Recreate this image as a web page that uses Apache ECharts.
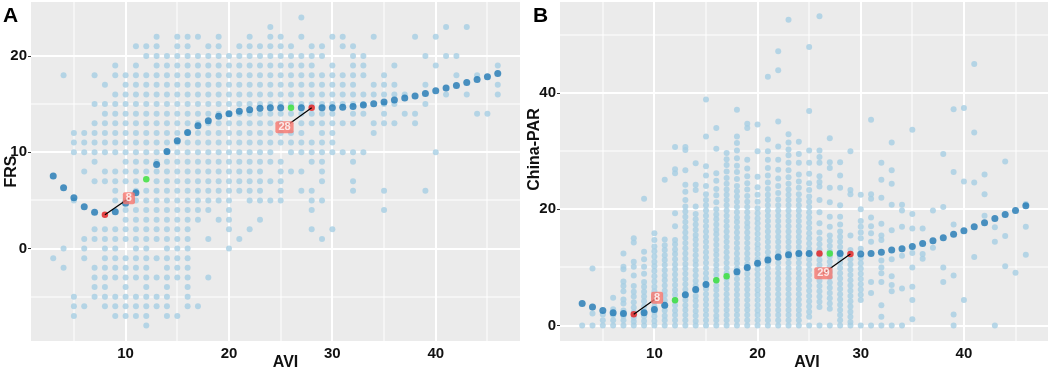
<!DOCTYPE html>
<html>
<head>
<meta charset="utf-8">
<script src="https://cdn.jsdelivr.net/npm/echarts/dist/echarts.min.js"></script>
<style>
  html, body { margin: 0; padding: 0; background: #fff; }
  #chart { width: 1053px; height: 369px; }
</style>
</head>
<body>
<div id="chart"></div>
<script>
// Panel A: FRS values observed at each AVI value (light points)
const frsByAvi = [
  [3, [-1]],
  [4, [18, 0, -2]],
  [5, [12, 11, 10, 5, -5, -6, -7]],
  [6, [12, 11, 10, 8, 1, 0, -1, -6]],
  [7, [18, 15, 13, 12, 11, 10, 9, 7, 2, 1, -2, -3, -4, -5]],
  [8, [17, 15, 14, 13, 12, 11, 10, 8, 7, 2, 1, 0, -1, -2, -3, -4, -5, -6]],
  [9, [19, 18, 16, 15, 14, 13, 12, 11, 10, 8, 7, 6, 5, 2, 1, 0, -1, -2, -3, -5, -6, -7]],
  [10, [18, 17, 16, 15, 14, 13, 12, 11, 10, 9, 8, 7, 5, 4, 3, 2, 1, -1, -2, -3, -4, -5, -6, -7]],
  [11, [21, 19, 18, 17, 16, 15, 14, 13, 12, 11, 10, 9, 8, 7, 6, 5, 4, 3, 2, 1, 0, -1, -2, -3, -5, -6, -7]],
  [12, [21, 20, 18, 17, 16, 15, 14, 13, 12, 11, 10, 9, 8, 6, 5, 4, 3, 2, 1, 0, -1, -2, -3, -4, -5, -6, -7, -8]],
  [13, [22, 21, 20, 19, 18, 17, 16, 15, 14, 13, 12, 11, 10, 9, 8, 7, 6, 5, 4, 3, 2, 1, -1, -3, -5, -6]],
  [14, [20, 19, 18, 17, 16, 15, 14, 13, 12, 11, 10, 9, 8, 7, 6, 5, 4, 3, 2, 1, 0, -1, -2, -3, -4, -5, -6, -7]],
  [15, [22, 21, 20, 19, 18, 17, 16, 15, 14, 13, 12, 11, 10, 9, 8, 7, 6, 5, 4, 3, 2, 1, 0, -1, -2, -3, -7]],
  [16, [22, 21, 20, 19, 18, 17, 16, 15, 14, 13, 12, 11, 10, 9, 8, 7, 6, 5, 4, 3, 2, 1, 0, -1, -2, -3, -4, -5, -6]],
  [17, [22, 20, 19, 18, 17, 16, 15, 14, 13, 12, 11, 10, 9, 8, 7, 6, 5, 4, 3, -6]],
  [18, [21, 20, 19, 18, 17, 16, 15, 14, 13, 12, 11, 10, 9, 8, 7, 6, 5, 4, 1, -3]],
  [19, [22, 21, 20, 19, 18, 17, 16, 15, 14, 13, 12, 11, 10, 9, 8, 7, 6, 5, 3]],
  [20, [20, 19, 18, 17, 16, 15, 14, 13, 12, 11, 10, 9, 8, 7, 6, 5, 4, 3, 2, 0]],
  [21, [21, 20, 19, 18, 17, 16, 15, 14, 13, 12, 11, 10, 9, 8, 7, 6, 1]],
  [22, [22, 21, 20, 19, 18, 17, 16, 15, 14, 13, 12, 11, 10, 9, 8, 7, 6, 5, 2]],
  [23, [21, 20, 19, 18, 17, 16, 15, 14, 13, 12, 11, 10, 9, 8, 7, 6, 5, 3]],
  [24, [23, 22, 21, 20, 19, 18, 17, 16, 15, 14, 13, 12, 11, 10, 9, 7, 5]],
  [25, [22, 21, 20, 19, 18, 17, 16, 15, 14, 13, 12, 11, 9, 8, 7, 6, 5]],
  [26, [21, 20, 19, 18, 17, 16, 15, 14, 12, 11, 10, 8]],
  [27, [24, 22, 20, 19, 18, 17, 16, 15, 14, 13, 12, 11, 10, 8, 6]],
  [28, [21, 20, 19, 18, 17, 16, 15, 14, 13, 11, 10, 9, 6, 5, 4, 2]],
  [29, [21, 20, 18, 17, 16, 15, 14, 13, 12, 11, 10, 9, 8, 7, 5, 1]],
  [30, [22, 19, 18, 17, 16, 15, 14, 13, 12, 11, 10, 2]],
  [31, [22, 21, 18, 17, 16, 15, 13, 10]],
  [32, [21, 20, 19, 18, 17, 16, 15, 14, 13, 10, 9, 7, 6]],
  [33, [20, 19, 18, 16, 15, 14, 10]],
  [34, [22, 17, 16, 13, 12]],
  [35, [18, 17, 16, 15, 14, 13, 6, 4]],
  [36, [19, 17, 16, 15, 13]],
  [37, [16, 14]],
  [38, [22, 14, 13]],
  [39, [20, 17, 15, 6]],
  [40, [22, 19, 10]],
  [41, [23, 20, 16]],
  [42, [20, 18]],
  [43, [23, 16]],
  [44, [18, 14]],
  [45, [14]],
  [46, [19, 17, 16]]
];

// Panel B: China-PAR values observed at each AVI value (light points)
const parByAvi = [
  [3, [0]],
  [4, [0, 2.1, 9.8]],
  [5, [0, 0.9, 1.9]],
  [6, [0, 0.9, 1.8, 2.8, 4.8]],
  [7, [0, 0.9, 1.7, 2.6, 3.8, 4.5, 5.9, 6.8, 7.6, 9.7, 10.1, 12.4]],
  [8, [0, 0.7, 1.4, 2.3, 3.1, 4.0, 5.0, 5.8, 6.8, 8.6, 10.1, 11.0, 14.3, 15.0]],
  [9, [0, 0.8, 1.6, 2.5, 3.3, 4.2, 5.0, 5.8, 6.7, 7.5, 8.9, 10.1, 11.4, 12.7, 21.8]],
  [10, [0, 0.8, 1.6, 2.4, 3.3, 4.1, 5.0, 5.9, 6.7, 7.6, 8.5, 9.4, 10.2, 11.0, 11.9, 12.8, 13.6, 14.7, 15.9]],
  [11, [0, 0.9, 1.7, 2.6, 3.4, 4.3, 5.2, 6.0, 6.9, 7.8, 8.6, 9.5, 10.4, 11.3, 12.1, 13.0, 13.8, 14.8, 25.1]],
  [12, [0, 0.9, 1.8, 2.6, 3.5, 4.4, 5.3, 6.1, 7.0, 7.9, 8.8, 9.7, 10.5, 11.4, 12.3, 13.1, 14.0, 14.7, 17.1, 19.3, 26.2, 26.9, 30.7]],
  [13, [0, 0.9, 1.8, 2.7, 3.5, 4.4, 5.3, 6.2, 7.1, 8.0, 8.9, 9.8, 10.6, 11.5, 12.4, 13.3, 14.2, 15.1, 16.0, 16.9, 17.8, 18.7, 19.6, 20.5, 21.6, 23.0, 24.2, 26.7, 30.2, 30.7]],
  [14, [0, 0.8, 1.7, 2.5, 3.4, 4.3, 5.1, 6.0, 6.9, 7.7, 8.6, 9.5, 10.4, 11.2, 12.1, 13.0, 13.9, 14.8, 15.6, 16.5, 17.4, 18.3, 19.2, 20.5, 23.3, 24.2, 27.9]],
  [15, [0, 0.9, 1.8, 2.7, 3.6, 4.5, 5.4, 6.3, 7.2, 8.1, 9.0, 9.9, 10.8, 11.7, 12.6, 13.5, 14.4, 15.3, 16.2, 17.1, 18.0, 18.9, 19.8, 20.7, 21.6, 22.6, 24.0, 25.8, 27.4, 32.5, 38.9]],
  [16, [0, 0.9, 1.7, 2.6, 3.5, 4.3, 5.2, 6.1, 6.9, 7.8, 8.7, 9.6, 10.4, 11.3, 12.2, 13.0, 13.9, 14.8, 15.7, 16.5, 17.4, 18.3, 19.1, 20.0, 21.2, 22.4, 23.5, 24.9, 26.2, 30.4, 34.0]],
  [17, [0, 0.9, 1.8, 2.7, 3.6, 4.5, 5.4, 6.3, 7.2, 8.1, 9.0, 9.9, 10.8, 11.7, 12.6, 13.5, 14.4, 15.3, 16.2, 17.1, 18.0, 18.9, 19.8, 20.7, 21.6, 22.5, 23.4, 24.4, 25.4, 26.5, 27.6, 28.6, 29.7]],
  [18, [0, 0.9, 1.8, 2.7, 3.6, 4.4, 5.3, 6.2, 7.1, 8.0, 8.9, 9.8, 10.7, 11.5, 12.4, 13.3, 14.2, 15.1, 16.0, 16.9, 17.8, 18.6, 19.5, 20.4, 21.3, 22.2, 23.1, 24.0, 25.2, 26.4, 27.5, 28.8, 30.1, 31.4, 32.5, 37.1]],
  [19, [0, 0.9, 1.8, 2.7, 3.5, 4.4, 5.3, 6.2, 7.1, 8.0, 8.9, 9.8, 10.6, 11.5, 12.4, 13.3, 14.2, 15.1, 16.0, 16.9, 17.7, 18.6, 19.5, 20.4, 21.3, 22.3, 23.4, 24.5, 25.7, 27.0, 28.5, 34.0, 34.7]],
  [20, [0, 0.9, 1.8, 2.6, 3.5, 4.4, 5.3, 6.1, 7.0, 7.9, 8.8, 9.7, 10.5, 11.4, 12.3, 13.2, 14.0, 14.9, 15.8, 16.7, 17.6, 18.4, 19.3, 20.2, 21.3, 22.5, 23.8, 25.6, 30.0, 34.6]],
  [21, [0, 0.9, 1.8, 2.7, 3.6, 4.5, 5.4, 6.3, 7.2, 8.1, 9.0, 9.9, 10.8, 11.7, 12.6, 13.5, 14.4, 15.3, 16.2, 17.1, 18.0, 18.9, 19.8, 20.7, 21.6, 22.5, 23.5, 24.6, 25.8, 27.1, 28.5, 30.0, 32.0, 42.8]],
  [22, [0, 0.9, 1.8, 2.7, 3.6, 4.5, 5.4, 6.3, 7.2, 8.1, 9.0, 9.9, 10.8, 11.7, 12.6, 13.5, 14.4, 15.3, 16.2, 17.1, 18.0, 18.9, 19.8, 20.7, 21.7, 22.8, 24.0, 25.3, 26.8, 28.5, 30.8, 35.1, 43.9, 47.2]],
  [23, [0, 0.9, 1.8, 2.7, 3.6, 4.5, 5.4, 6.3, 7.2, 8.1, 9.0, 9.9, 10.8, 11.7, 12.6, 13.5, 14.4, 15.3, 16.2, 17.1, 18.0, 18.9, 19.8, 20.7, 21.6, 22.5, 23.4, 24.4, 25.5, 26.7, 28.0, 29.3, 30.3, 31.5, 32.9, 52.6]],
  [24, [0, 0.9, 1.8, 2.7, 3.6, 4.5, 5.4, 6.3, 7.2, 8.1, 9.0, 9.9, 10.8, 11.7, 12.6, 13.5, 14.4, 15.3, 16.2, 17.1, 18.0, 18.9, 19.8, 20.7, 21.6, 22.6, 23.7, 24.8, 26.0, 28.0, 29.5, 31.6]],
  [25, [0, 1.5, 2.4, 3.3, 4.2, 5.1, 6.0, 6.9, 7.8, 8.7, 9.6, 10.5, 11.4, 12.3, 13.2, 14.1, 15.0, 15.9, 16.8, 17.7, 18.6, 19.5, 20.4, 21.3, 22.2, 23.3, 24.5, 26.1, 28.0, 30.1, 36.9, 47.9]],
  [26, [0, 3.2, 4.1, 5.0, 5.9, 6.8, 7.7, 8.6, 9.5, 10.4, 11.3, 12.2, 13.1, 14.0, 14.9, 16.0, 17.6, 19.5, 21.6, 23.9, 24.7, 25.7, 28.0, 29.0, 30.1, 53.2]],
  [27, [0, 2.9, 3.8, 4.7, 5.6, 6.5, 7.4, 8.3, 9.2, 10.1, 11.0, 11.9, 12.8, 13.7, 14.6, 15.5, 17.0, 18.7, 21.2, 23.7, 27.1, 28.1, 32.2]],
  [28, [0, 0.9, 1.8, 2.7, 3.6, 4.5, 5.4, 6.3, 7.2, 8.1, 9.0, 9.9, 10.8, 11.7, 12.6, 13.5, 14.4, 15.3, 16.2, 17.4, 18.7, 20.7, 23.7, 25.8, 28.1]],
  [29, [0, 0.6, 1.5, 2.4, 3.3, 4.2, 5.1, 6.0, 6.9, 7.8, 8.7, 9.6, 10.5, 11.4, 13.0, 15.5, 22.6, 23.3, 30.0]],
  [30, [0, 4.4, 5.3, 6.2, 7.1, 8.0, 8.9, 9.8, 10.7, 11.6, 13.2, 15.0, 16.0, 17.0, 18.0, 20.0, 22.5]],
  [31, [0, 5.6, 7.5, 14.4, 15.9, 17.1, 18.6, 21.8, 22.6, 35.4]],
  [32, [0, 1.5, 3.5, 7.5, 9.0, 10.0, 11.2, 14.7, 15.5, 17.5, 22.0, 25.1, 28.0]],
  [33, [0, 5.9, 7.0, 8.5, 11.4, 16.4, 20.8, 24.4, 26.7, 31.5]],
  [34, [0, 6.4, 12.0, 17.0, 19.8, 20.8]],
  [35, [1.1, 4.4, 6.7, 10.0, 12.5, 16.7, 19.2, 33.7]],
  [36, [11.5, 12.3, 16.7]],
  [37, [13.4, 19.8]],
  [38, [7.5, 10.0, 20.4, 29.5]],
  [39, [0, 1.9, 8.6, 17.4, 26.4, 37.2]],
  [40, [4.4, 24.8, 37.4]],
  [41, [11.8, 24.6, 33.2, 45.0]],
  [42, [18.9, 22.6, 26.0]],
  [43, [0, 14.4, 16.9]],
  [44, [10.2, 15.4, 28.2]],
  [45, [9.1]],
  [46, [12.2, 17.0, 20.9]]
];

// fitted curves, one value per AVI from 3 to 46
const aviFit = [3, 4, 5, 6, 7, 8, 9, 10, 11, 12, 13, 14, 15, 16, 17, 18, 19, 20, 21, 22, 23, 24,
  25, 26, 27, 28, 29, 30, 31, 32, 33, 34, 35, 36, 37, 38, 39, 40, 41, 42, 43, 44, 45, 46];
const frsFit = [7.52, 6.31, 5.28, 4.35, 3.76, 3.52, 3.83, 4.7, 5.8, 7.2, 8.73, 10.07, 11.18, 12.04,
  12.76, 13.28, 13.73, 14.0, 14.25, 14.42, 14.56, 14.63, 14.63, 14.63, 14.63, 14.63, 14.63, 14.63,
  14.66, 14.76, 14.9, 15.04, 15.21, 15.42, 15.63, 15.84, 16.11, 16.39, 16.66, 16.94, 17.25, 17.56,
  17.84, 18.18];
const parFit = [3.8, 3.2, 2.6, 2.2, 2.07, 1.95, 2.2, 2.76, 3.5, 4.37, 5.3, 6.2, 7.07, 7.8, 8.5, 9.25,
  10.0, 10.7, 11.3, 11.8, 12.2, 12.4, 12.4, 12.4, 12.4, 12.4, 12.3, 12.3, 12.4, 12.6, 13.0, 13.2,
  13.6, 14.1, 14.6, 15.1, 15.7, 16.3, 17.0, 17.7, 18.4, 19.1, 19.8, 20.6];

// highlighted AVI values on each curve
const redA = [8, 28];
const greenA = [12, 26];
const redB = [8, 26, 29];
const greenB = [12, 16, 17, 27];

// labelled points: [avi, label, label x, label y]
const labelsA = [[8, '8', 10.32, 5.23], [28, '28', 25.37, 12.59]];
const labelsB = [[8, '8', 10.26, 4.79], [29, '29', 26.38, 9.02]];

const xTicks = [10, 20, 30, 40];
const xMinor = [5, 15, 25, 35, 45];
const yTicksA = [0, 10, 20];
const yMinorA = [-5, 5, 15];
const yTicksB = [0, 20, 40];
const yMinorB = [10, 30, 50];

const LIGHT = '#A6CEE3';
const DARK = '#1F78B4';
const RED = '#E41A1C';
const GREEN = '#33E033';
const FONT = '"Liberation Sans", Arial, sans-serif';

const X_RANGE = [0.85, 48.15];
const Y_RANGE_A = [-9.6, 25.6];
const Y_RANGE_B = [-2.65, 55.65];

const expand = cols => {
  const out = [];
  cols.forEach(([x, ys]) => ys.forEach(y => out.push([x, y])));
  return out;
};
const fitPoints = (ys, keep) => aviFit.map((x, i) => [x, ys[i]]).filter(p => keep(p[0]));
const fitAt = (ys, x) => ys[aviFit.indexOf(x)];

const chart = echarts.init(document.getElementById('chart'));

// gray panel and white grid, drawn through the axes by a custom series
const panelBackground = (idx, yTicks, yMinor, yr) => ({
  type: 'custom', xAxisIndex: idx, yAxisIndex: idx, silent: true, z: 1, clip: false,
  data: [[X_RANGE[0], yr[0]]],
  renderItem: (params, api) => {
    const tl = api.coord([X_RANGE[0], yr[1]]);
    const br = api.coord([X_RANGE[1], yr[0]]);
    const kids = [{
      type: 'rect', z2: 0,
      shape: { x: tl[0], y: tl[1], width: br[0] - tl[0], height: br[1] - tl[1] },
      style: { fill: '#EBEBEB' }
    }];
    const vline = (v, w) => {
      const x = Math.round(api.coord([v, yr[0]])[0]);
      kids.push({ type: 'rect', z2: 1,
        shape: { x: x - w / 2, y: tl[1], width: w, height: br[1] - tl[1] },
        style: { fill: '#FFFFFF' } });
    };
    const hline = (v, w) => {
      const y = Math.round(api.coord([X_RANGE[0], v])[1]);
      kids.push({ type: 'rect', z2: 1,
        shape: { x: tl[0], y: y - w / 2, width: br[0] - tl[0], height: w },
        style: { fill: '#FFFFFF' } });
    };
    xMinor.forEach(v => vline(v, 1));
    yMinor.forEach(v => hline(v, 1));
    xTicks.forEach(v => vline(v, 2));
    yTicks.forEach(v => hline(v, 2));
    return { type: 'group', children: kids };
  }
});

const panelSeries = (idx, cols, fit, reds, greens, labels, yTicks, yMinor, yr) => {
  const hi = reds.concat(greens);
  const s = [
    panelBackground(idx, yTicks, yMinor, yr),
    { type: 'scatter', xAxisIndex: idx, yAxisIndex: idx, z: 3, symbolSize: 6,
      itemStyle: { color: LIGHT }, data: expand(cols) },
    { type: 'scatter', xAxisIndex: idx, yAxisIndex: idx, z: 4, symbolSize: 7,
      itemStyle: { color: DARK }, data: fitPoints(fit, x => hi.indexOf(x) < 0) },
    { type: 'scatter', xAxisIndex: idx, yAxisIndex: idx, z: 4, symbolSize: 6.5,
      itemStyle: { color: GREEN }, data: fitPoints(fit, x => greens.indexOf(x) >= 0) },
    { type: 'scatter', xAxisIndex: idx, yAxisIndex: idx, z: 4, symbolSize: 6.5,
      itemStyle: { color: RED }, data: fitPoints(fit, x => reds.indexOf(x) >= 0) }
  ];
  labels.forEach(([x, text, lx, ly]) => {
    s.push({
      type: 'line', xAxisIndex: idx, yAxisIndex: idx, z: 5, symbol: 'none',
      lineStyle: { color: '#000', width: 1.2 },
      data: [[x, fitAt(fit, x)], [lx, ly]]
    });
    s.push({
      type: 'scatter', xAxisIndex: idx, yAxisIndex: idx, z: 7, symbolSize: 0,
      data: [{ value: [lx, ly], name: text }],
      label: {
        show: true, position: 'inside', formatter: p => p.name,
        color: '#fff', fontWeight: 'bold', fontSize: 11, lineHeight: 11, fontFamily: FONT,
        backgroundColor: '#F8766D', borderRadius: 2, padding: [1, 3, 0, 3]
      }
    });
  });
  return s;
};

const axisText = { color: '#111', fontWeight: 'bold', fontSize: 15, fontFamily: FONT };

const xAxisCfg = (idx, pad) => ({
  gridIndex: idx, type: 'value', min: X_RANGE[0], max: X_RANGE[1],
  splitLine: { show: false }, axisLine: { show: false },
  axisTick: { show: true, customValues: xTicks, length: 3, lineStyle: { color: '#333', width: 1 } },
  axisLabel: Object.assign({ customValues: xTicks, margin: 5 }, axisText),
  name: 'AVI', nameLocation: 'middle', nameGap: 14, nameMoveOverlap: false,
  nameTextStyle: { color: '#111', fontWeight: 'bold', fontSize: 16, fontFamily: FONT, padding: pad }
});

const yAxisCfg = (idx, yr, ticks, name, gap, pad) => ({
  gridIndex: idx, type: 'value', min: yr[0], max: yr[1],
  splitLine: { show: false }, axisLine: { show: false },
  axisTick: { show: true, customValues: ticks, length: 3, lineStyle: { color: '#333', width: 1 } },
  axisLabel: Object.assign({ customValues: ticks, margin: 4 }, axisText),
  name: name, nameLocation: 'middle', nameGap: gap, nameMoveOverlap: false,
  nameTextStyle: { color: '#111', fontWeight: 'bold', fontSize: 16, fontFamily: FONT, padding: pad }
});

const option = {
  animation: false,
  title: [
    { text: 'A', left: 3, top: 6, padding: 0,
      textStyle: { fontSize: 21, fontWeight: 'bold', color: '#000', fontFamily: FONT } },
    { text: 'B', left: 533, top: 6, padding: 0,
      textStyle: { fontSize: 21, fontWeight: 'bold', color: '#000', fontFamily: FONT } }
  ],
  grid: [
    { left: 31, right: 533, top: 2, bottom: 28, show: false,
      containLabel: false, outerBoundsMode: 'none' },
    { left: 560, right: 5, top: 2, bottom: 28, show: false,
      containLabel: false, outerBoundsMode: 'none' }
  ],
  xAxis: [xAxisCfg(0, [0, 0, 0, 20]), xAxisCfg(1, [0, 0, 0, 6])],
  yAxis: [
    yAxisCfg(0, Y_RANGE_A, yTicksA, 'FRS', 11, 0),
    yAxisCfg(1, Y_RANGE_B, yTicksB, 'China-PAR', 17, [0, 0, 0, 44])
  ],
  series: [
    ...panelSeries(0, frsByAvi, frsFit, redA, greenA, labelsA, yTicksA, yMinorA, Y_RANGE_A),
    ...panelSeries(1, parByAvi, parFit, redB, greenB, labelsB, yTicksB, yMinorB, Y_RANGE_B)
  ]
};

chart.setOption(option);
window.addEventListener('resize', () => chart.resize());
</script>
</body>
</html>
